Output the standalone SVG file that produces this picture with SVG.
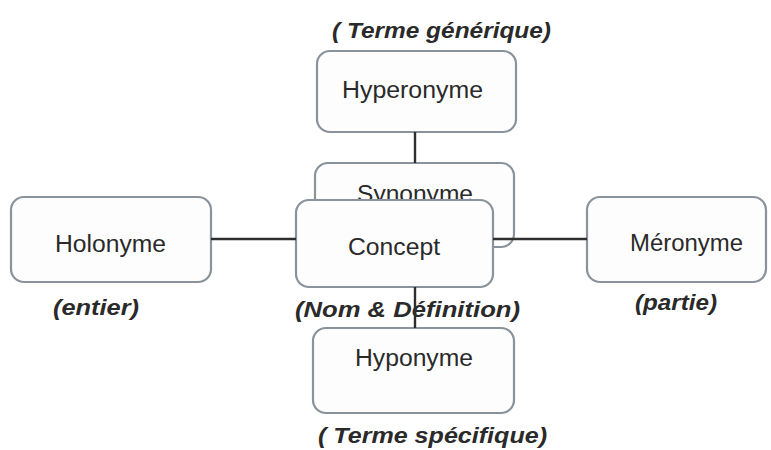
<svg xmlns="http://www.w3.org/2000/svg" width="771" height="450" viewBox="0 0 771 450">
  <style>
    .box { fill: #fdfdfd; stroke: #8a939b; stroke-width: 2.2; }
    .lbl { font-family: "Liberation Sans", Arial, sans-serif; font-size: 23px; fill: #2a2a2a; }
    .note { font-family: "Liberation Sans", Arial, sans-serif; font-size: 22px; font-weight: bold; font-style: italic; fill: #2a2a2a; }
    .link { stroke: #2e2e2e; stroke-width: 2.4; fill: none; }
  </style>
  <rect width="771" height="450" fill="#ffffff"/>

  <g id="hyperonyme">
    <rect class="box" x="317" y="51" width="199" height="81" rx="13"/>
    <text class="lbl" x="342" y="98" textLength="141" lengthAdjust="spacingAndGlyphs">Hyperonyme</text>
    <text class="note" x="332" y="38" textLength="219" lengthAdjust="spacingAndGlyphs">( Terme générique)</text>
  </g>

  <g id="synonyme">
    <rect class="box" x="315" y="163" width="199" height="84" rx="13"/>
    <text class="lbl" x="357" y="202" textLength="116" lengthAdjust="spacingAndGlyphs">Synonyme</text>
  </g>

  <g id="holonyme">
    <rect class="box" x="11" y="197" width="200" height="85" rx="13"/>
    <text class="lbl" x="55" y="252" textLength="111" lengthAdjust="spacingAndGlyphs">Holonyme</text>
    <text class="note" x="53" y="315" textLength="86" lengthAdjust="spacingAndGlyphs">(entier)</text>
  </g>

  <g id="meronyme">
    <rect class="box" x="587" y="197" width="179" height="85" rx="13"/>
    <text class="lbl" x="630" y="251" textLength="113" lengthAdjust="spacingAndGlyphs">Méronyme</text>
    <text class="note" x="635" y="310" textLength="82" lengthAdjust="spacingAndGlyphs">(partie)</text>
  </g>

  <g id="hyponyme">
    <rect class="box" x="313" y="328" width="201" height="85" rx="13"/>
    <text class="lbl" x="355" y="366" textLength="118" lengthAdjust="spacingAndGlyphs">Hyponyme</text>
    <text class="note" x="318" y="443" textLength="229" lengthAdjust="spacingAndGlyphs">( Terme spécifique)</text>
  </g>

  <g id="concept">
    <rect class="box" x="296" y="200" width="197" height="87" rx="13"/>
    <text class="lbl" x="348" y="255" textLength="92" lengthAdjust="spacingAndGlyphs">Concept</text>
    <text class="note" x="295" y="317" textLength="225" lengthAdjust="spacingAndGlyphs">(Nom &amp;  Définition)</text>
  </g>

  <g id="connectors">
    <line class="link" x1="415" y1="132" x2="415" y2="163"/>
    <line class="link" x1="211" y1="239" x2="296" y2="239"/>
    <line class="link" x1="493" y1="239" x2="587" y2="239"/>
    <line class="link" x1="415" y1="287" x2="415" y2="328"/>
  </g>
</svg>
